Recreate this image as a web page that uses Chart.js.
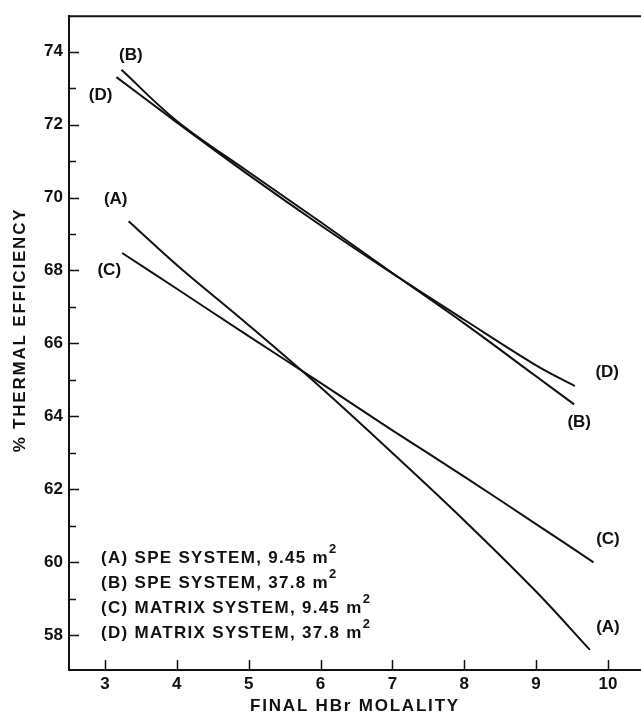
<!DOCTYPE html>
<html>
<head>
<meta charset="utf-8">
<title>% Thermal efficiency vs final HBr molality</title>
<script src="https://cdn.jsdelivr.net/npm/chart.js@4.4.1/dist/chart.umd.min.js"></script>
<style>
  body { margin: 0; background: #fff; }
  #wrap { width: 641px; height: 718px; }
</style>
</head>
<body>
<div id="wrap"><canvas id="chart" width="641" height="718"></canvas></div>
<script>
// values
const molalityA = [3.33, 4, 5, 6, 7, 8, 9, 9.75];
const efficiencyA = [69.35, 68.15, 66.5, 64.8, 63.0, 61.15, 59.2, 57.6];
const molalityB = [3.23, 4, 5, 6, 7, 8, 9, 9.53];
const efficiencyB = [73.5, 72.1, 70.7, 69.33, 67.93, 66.55, 65.1, 64.33];
const molalityC = [3.24, 4, 5, 6, 7, 8, 9, 9.8];
const efficiencyC = [68.48, 67.5, 66.2, 64.92, 63.62, 62.35, 61.05, 60.0];
const molalityD = [3.16, 4, 5, 6, 7, 8, 9, 9.54];
const efficiencyD = [73.3, 72.06, 70.62, 69.24, 67.92, 66.65, 65.4, 64.83];

const xTicks = [3, 4, 5, 6, 7, 8, 9, 10];
const yTicks = [58, 60, 62, 64, 66, 68, 70, 72, 74];
const yMinorTicks = [59, 61, 63, 65, 67, 69, 71, 73];

const legendLabels = [
  "(A) SPE SYSTEM, 9.45 m",
  "(B) SPE SYSTEM, 37.8 m",
  "(C) MATRIX SYSTEM, 9.45 m",
  "(D) MATRIX SYSTEM, 37.8 m",
];

// curve tags placed at their spot in data units
const tagText = ["(A)", "(A)", "(B)", "(B)", "(C)", "(C)", "(D)", "(D)"];
const tagMolality = [3.15, 10.0, 3.36, 9.6, 3.06, 10.0, 2.94, 9.99];
const tagEfficiency = [69.94, 58.21, 73.9, 63.84, 68.0, 60.64, 72.8, 65.21];

const FONT = "'Liberation Sans', Arial, Helvetica, sans-serif";
const INK = "#111";

function toPoints(xs, ys) {
  return xs.map((x, i) => ({ x: x, y: ys[i] }));
}

function curve(label, xs, ys) {
  return {
    label: label,
    data: toPoints(xs, ys),
    showLine: true,
    borderColor: INK,
    borderWidth: 2,
    pointRadius: 0,
    tension: 0.35,
    fill: false,
  };
}

const annotations = {
  id: "annotations",
  afterDraw(chart) {
    const ctx = chart.ctx;
    const area = chart.chartArea;
    const xs = chart.scales.x;
    const ys = chart.scales.y;

    ctx.save();
    ctx.strokeStyle = INK;
    ctx.lineWidth = 2;

    // top frame line
    ctx.beginPath();
    ctx.moveTo(area.left, area.top);
    ctx.lineTo(area.right, area.top);
    ctx.stroke();

    // tick marks point into the plot
    ctx.lineWidth = 1.5;
    ctx.beginPath();
    yTicks.forEach((v) => {
      const py = Math.round(ys.getPixelForValue(v)) + 0.5;
      ctx.moveTo(area.left, py);
      ctx.lineTo(area.left + 10, py);
    });
    yMinorTicks.forEach((v) => {
      const py = Math.round(ys.getPixelForValue(v)) + 0.5;
      ctx.moveTo(area.left, py);
      ctx.lineTo(area.left + 7, py);
    });
    xTicks.forEach((v) => {
      const px = Math.round(xs.getPixelForValue(v)) + 0.5;
      ctx.moveTo(px, area.bottom);
      ctx.lineTo(px, area.bottom - 10);
    });
    ctx.stroke();

    ctx.fillStyle = INK;

    // curve tags
    ctx.font = "bold 17px " + FONT;
    ctx.textAlign = "center";
    ctx.textBaseline = "middle";
    tagText.forEach((t, i) => {
      ctx.fillText(t, xs.getPixelForValue(tagMolality[i]), ys.getPixelForValue(tagEfficiency[i]));
    });

    // legend with superscript 2
    ctx.textAlign = "left";
    ctx.textBaseline = "alphabetic";
    legendLabels.forEach((t, i) => {
      const lx = area.left + 32;
      const ly = area.bottom - 107 + i * 25;
      ctx.font = "bold 17px " + FONT;
      ctx.letterSpacing = "1.3px";
      ctx.fillText(t, lx, ly);
      const w = ctx.measureText(t).width;
      ctx.font = "bold 13px " + FONT;
      ctx.letterSpacing = "0px";
      ctx.fillText("2", lx + w, ly - 10);
    });

    // axis titles
    ctx.font = "bold 17px " + FONT;
    ctx.letterSpacing = "1.8px";
    ctx.textAlign = "center";
    ctx.fillText("FINAL HBr MOLALITY", (area.left + area.right) / 2, 711);

    ctx.translate(25, 330);
    ctx.rotate(-Math.PI / 2);
    ctx.fillText("% THERMAL EFFICIENCY", 0, 0);
    ctx.restore();
  },
};

let chart;

function initializeChart() {
  const ctx = document.getElementById("chart").getContext("2d");
  const tickFont = { family: FONT, size: 17, weight: "bold" };

  chart = new Chart(ctx, {
    type: "scatter",
    data: {
      datasets: [
        curve("A", molalityA, efficiencyA),
        curve("B", molalityB, efficiencyB),
        curve("C", molalityC, efficiencyC),
        curve("D", molalityD, efficiencyD),
      ],
    },
    options: {
      responsive: false,
      animation: false,
      layout: { padding: { top: 8, right: 0, left: 0, bottom: 0 } },
      plugins: {
        legend: { display: false },
        tooltip: { enabled: false },
      },
      scales: {
        x: {
          type: "linear",
          min: 2.5,
          max: 10.46,
          grid: { display: false, drawTicks: false },
          border: { display: true, color: INK, width: 2 },
          ticks: {
            font: tickFont,
            color: INK,
            padding: 4,
            autoSkip: false,
            maxRotation: 0,
          },
          afterBuildTicks: (scale) => {
            scale.ticks = xTicks.map((v) => ({ value: v }));
          },
          afterFit: (scale) => {
            scale.height = 48;
          },
        },
        y: {
          type: "linear",
          min: 57.05,
          max: 74.97,
          grid: { display: false, drawTicks: false },
          border: { display: true, color: INK, width: 2 },
          ticks: {
            font: tickFont,
            color: INK,
            padding: 6,
            autoSkip: false,
          },
          afterBuildTicks: (scale) => {
            scale.ticks = yTicks.map((v) => ({ value: v }));
          },
          afterFit: (scale) => {
            scale.width = 69;
          },
        },
      },
    },
    plugins: [annotations],
  });
}

document.addEventListener("DOMContentLoaded", function () {
  initializeChart();
});
</script>
</body>
</html>
